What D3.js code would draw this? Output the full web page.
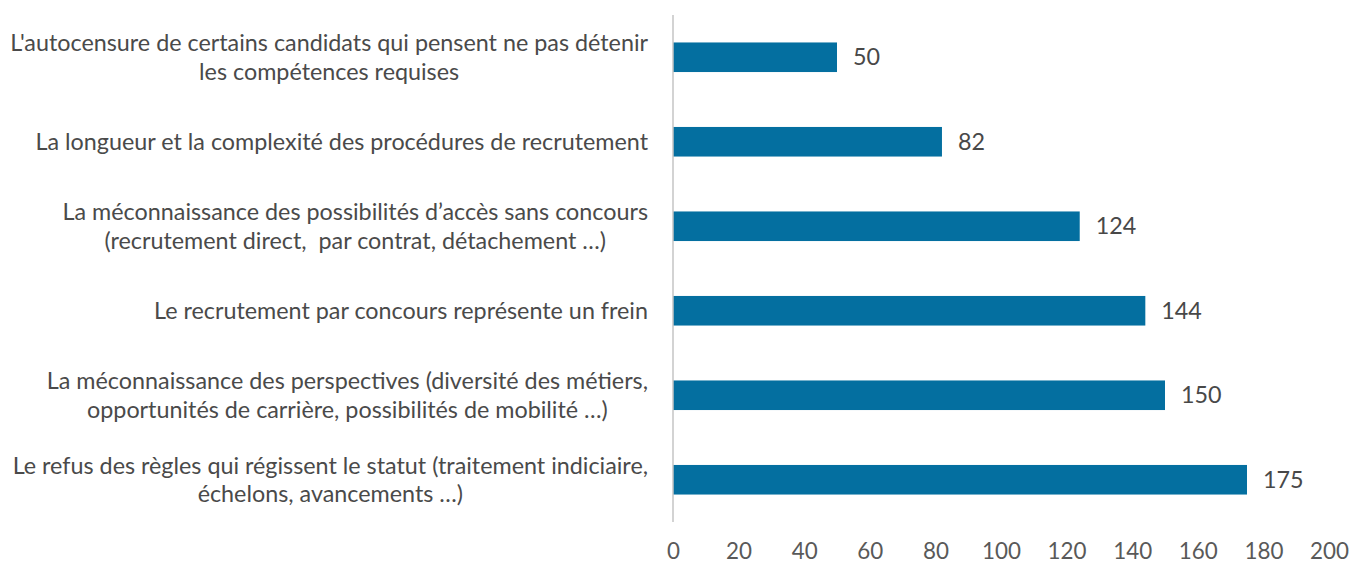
<!DOCTYPE html>
<html>
<head>
<meta charset="utf-8" />
<title>Freins au recrutement</title>
<script src="https://d3js.org/d3.v7.min.js"></script>
<style>
  body { margin: 0; background: #fff; }
  text { font-family: Lato, "Open Sans", sans-serif; white-space: pre; }
</style>
</head>
<body>
<script>
// data
var categories = [
  ["L'autocensure de certains candidats qui pensent ne pas détenir", "les compétences requises"],
  ["La longueur et la complexité des procédures de recrutement"],
  ["La méconnaissance des possibilités d’accès sans concours", "(recrutement direct,  par contrat, détachement …)"],
  ["Le recrutement par concours représente un frein"],
  ["La méconnaissance des perspectives (diversité des métiers,", "opportunités de carrière, possibilités de mobilité …)"],
  ["Le refus des règles qui régissent le statut (traitement indiciaire,", "échelons, avancements …)"]
];
var values = [50, 82, 124, 144, 150, 175];
var ticks = [0, 20, 40, 60, 80, 100, 120, 140, 160, 180, 200];

var W = 1353, H = 563;
var svg = d3.select("body").append("svg")
    .attr("width", W)
    .attr("height", H);

// find a font size so the longest line matches the reference width
var probe = svg.append("text").attr("font-size", 20).text(categories[0][0]);
var fs = 20 * 638 / probe.node().getComputedTextLength();
probe.remove();

var x = d3.scaleLinear().domain([0, 200]).range([673, 1329]);
var y = d3.scaleBand()
    .domain(d3.range(categories.length))
    .range([15, 522])
    .paddingInner(0.65)
    .paddingOuter(0.325);

// bars
svg.selectAll("rect.bar")
    .data(values)
    .enter()
    .append("rect")
    .attr("class", "bar")
    .attr("x", x(0))
    .attr("y", function(d, i) { return y(i); })
    .attr("width", function(d) { return x(d) - x(0); })
    .attr("height", y.bandwidth())
    .attr("fill", "#046fa0");

// vertical axis line
svg.append("line")
    .attr("x1", x(0)).attr("x2", x(0))
    .attr("y1", 15).attr("y2", 522)
    .attr("stroke", "#c4c4c4")
    .attr("stroke-width", 1.5);

// value labels
svg.selectAll("text.val")
    .data(values)
    .enter()
    .append("text")
    .attr("class", "val")
    .attr("x", function(d) { return x(d) + 16; })
    .attr("y", function(d, i) { return y(i) + y.bandwidth() / 2; })
    .attr("dy", "0.35em")
    .attr("font-size", fs)
    .attr("fill", "#484848")
    .text(function(d) { return d; });

// category labels: block right aligned, lines centered in block
var lineH = 28.5;
var labels = svg.selectAll("g.lab")
    .data(categories)
    .enter()
    .append("g")
    .attr("class", "lab");

labels.each(function(lines, i) {
  var g = d3.select(this);
  var cy = y(i) + y.bandwidth() / 2;
  var t = g.selectAll("text")
      .data(lines)
      .enter()
      .append("text")
      .attr("font-size", fs)
      .attr("fill", "#4a4a4a")
      .attr("text-anchor", "middle")
      .attr("y", function(d, j) { return cy + (j - (lines.length - 1) / 2) * lineH; })
      .attr("dy", "0.35em")
      .text(function(d) { return d; });
  var maxW = d3.max(t.nodes(), function(n) { return n.getComputedTextLength(); });
  t.attr("x", 648 - maxW / 2);
});

// bottom axis (baseline near the bottom edge, as in the reference)
var axis = svg.append("g")
    .attr("transform", "translate(0,559)")
    .call(d3.axisBottom(x).tickValues(ticks).tickSize(0).tickPadding(0));
axis.select(".domain").remove();
axis.selectAll("text")
    .attr("font-size", fs * 0.96)
    .attr("font-family", "Lato, 'Open Sans', sans-serif")
    .attr("fill", "#595959")
    .attr("dy", 0);
</script>
</body>
</html>
